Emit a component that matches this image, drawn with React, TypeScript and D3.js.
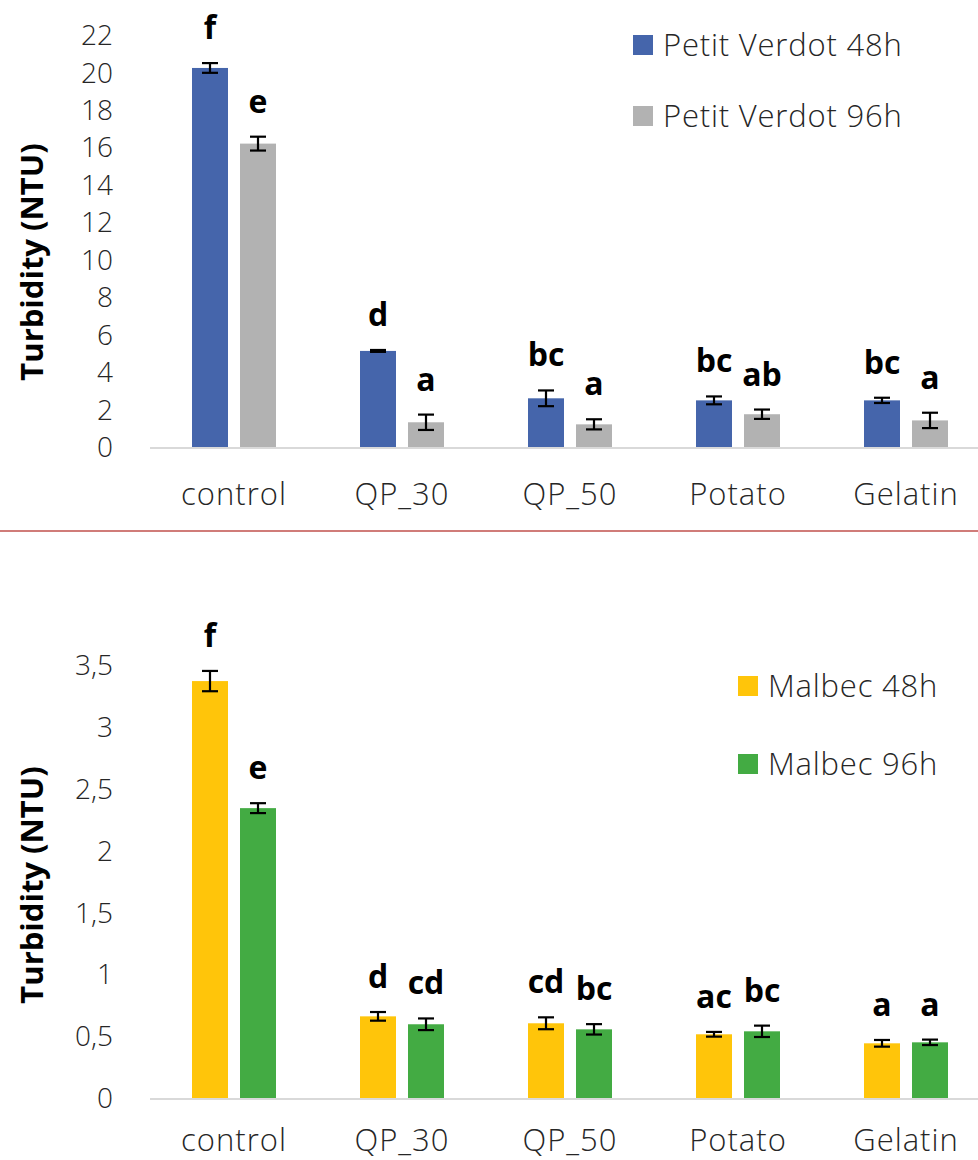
import React from "react";
import * as d3 from "d3";

const categories = ["control", "QP_30", "QP_50", "Potato", "Gelatin"];

// Top chart: Petit Verdot
const pvSeries = ["Petit Verdot 48h", "Petit Verdot 96h"];
const pv48 = [20.24, 5.13, 2.6, 2.49, 2.49];
const pv96 = [16.2, 1.32, 1.21, 1.75, 1.42];
const pv48Err = [0.26, 0.05, 0.42, 0.21, 0.14];
const pv96Err = [0.37, 0.41, 0.27, 0.25, 0.41];
const pv48Letters = ["f", "d", "bc", "bc", "bc"];
const pv96Letters = ["e", "a", "a", "ab", "a"];
const pvTicks = [0, 2, 4, 6, 8, 10, 12, 14, 16, 18, 20, 22];

// Bottom chart: Malbec
const mbSeries = ["Malbec 48h", "Malbec 96h"];
const mb48 = [3.37, 0.66, 0.604, 0.515, 0.442];
const mb96 = [2.343, 0.596, 0.555, 0.539, 0.45];
const mb48Err = [0.082, 0.035, 0.048, 0.019, 0.027];
const mb96Err = [0.04, 0.047, 0.042, 0.046, 0.022];
const mb48Letters = ["f", "d", "cd", "ac", "a"];
const mb96Letters = ["e", "cd", "bc", "bc", "a"];
const mbTicks = [0, 0.5, 1, 1.5, 2, 2.5, 3, 3.5];

const FONT = "'Open Sans', 'Noto Sans', sans-serif";

type PanelProps = {
  series: string[];
  v48: number[];
  v96: number[];
  e48: number[];
  e96: number[];
  l48: string[];
  l96: string[];
  ticks: number[];
  yMax: number;
  y0: number;
  yTop: number;
  titleY: number;
  labelDy: number;
  colors: string[];
  legendX: number;
  legendY: number[];
  fmt: (v: number) => string;
};

function Panel(p: PanelProps) {
  const x = d3.scaleBand<string>().domain(categories).range([150, 990]).paddingInner(0.5).paddingOuter(0.25);
  const xs = d3.scaleBand<string>().domain(p.series).range([0, x.bandwidth()]).paddingInner(0.25);
  const y = d3.scaleLinear().domain([0, p.yMax]).range([p.y0, p.yTop]);
  const vals = [p.v48, p.v96];
  const errs = [p.e48, p.e96];
  const lets = [p.l48, p.l96];
  const cap = 8;
  return (
    <g>
      {/* y tick labels */}
      {p.ticks.map((t) => (
        <text key={"t" + t} x={113} y={y(t)} dy="0.36em" textAnchor="end" fontFamily={FONT} fontWeight={300} fontSize={28} fill="#262626">
          {p.fmt(t)}
        </text>
      ))}
      {/* y title */}
      <text
        transform={`translate(32,${p.titleY}) rotate(-90)`}
        dy="0.36em"
        textAnchor="middle"
        fontFamily={FONT}
        fontWeight={700}
        fontSize={31}
        fill="#000"
      >
        Turbidity (NTU)
      </text>
      {/* bars */}
      {categories.map((c, i) =>
        p.series.map((s, j) => {
          const bx = (x(c) as number) + (xs(s) as number);
          const bw = xs.bandwidth();
          const v = vals[j][i];
          const e = errs[j][i];
          const cx = bx + bw / 2;
          return (
            <g key={c + s}>
              <rect x={bx} y={y(v)} width={bw} height={p.y0 - y(v)} fill={p.colors[j]} />
              <line x1={cx} x2={cx} y1={y(v + e)} y2={y(v - e)} stroke="#000" strokeWidth={2.2} />
              <line x1={cx - cap} x2={cx + cap} y1={y(v + e)} y2={y(v + e)} stroke="#000" strokeWidth={2.2} />
              <line x1={cx - cap} x2={cx + cap} y1={y(v - e)} y2={y(v - e)} stroke="#000" strokeWidth={2.2} />
              <text x={cx} y={y(v + e) - 24} textAnchor="middle" fontFamily={FONT} fontWeight={700} fontSize={32} fill="#000">
                {lets[j][i]}
              </text>
            </g>
          );
        })
      )}
      {/* x axis */}
      <line x1={150} x2={990} y1={p.y0 + 1} y2={p.y0 + 1} stroke="#d9d9d9" strokeWidth={2} />
      {categories.map((c) => (
        <text key={"c" + c} x={(x(c) as number) + x.bandwidth() / 2} y={p.y0 + p.labelDy} textAnchor="middle" fontFamily={FONT} fontWeight={300} fontSize={31} letterSpacing={1} fill="#262626">
          {c}
        </text>
      ))}
      {/* legend */}
      {p.series.map((s, j) => (
        <g key={"lg" + s}>
          <rect x={p.legendX} y={p.legendY[j] - 10} width={20} height={20} fill={p.colors[j]} />
          <text x={p.legendX + 30} y={p.legendY[j]} dy="0.36em" fontFamily={FONT} fontWeight={300} fontSize={31} letterSpacing={0.8} fill="#262626">
            {s}
          </text>
        </g>
      ))}
    </g>
  );
}

export default function App() {
  const fmtTop = (v: number) => d3.format("d")(v);
  const fmtBot = (v: number) => String(v).replace(".", ",");
  return (
    <svg width={978} height={1160} style={{ position: "absolute", left: 0, top: 0, display: "block", background: "#fff" }}>
      <rect x={0} y={0} width={978} height={1160} fill="#fff" />
      <Panel
        series={pvSeries}
        v48={pv48}
        v96={pv96}
        e48={pv48Err}
        e96={pv96Err}
        l48={pv48Letters}
        l96={pv96Letters}
        ticks={pvTicks}
        yMax={22}
        y0={447}
        yTop={35}
        titleY={262}
        labelDy={58}
        colors={["#4565AB", "#B2B2B2"]}
        legendX={633}
        legendY={[45, 116]}
        fmt={fmtTop}
      />
      <line x1={0} x2={978} y1={531} y2={531} stroke="#C0504D" strokeWidth={1.5} />
      <Panel
        series={mbSeries}
        v48={mb48}
        v96={mb96}
        e48={mb48Err}
        e96={mb96Err}
        l48={mb48Letters}
        l96={mb96Letters}
        ticks={mbTicks}
        yMax={3.5}
        y0={1098}
        yTop={665}
        titleY={885}
        labelDy={53}
        colors={["#FFC50A", "#43AB43"]}
        legendX={738}
        legendY={[686, 764]}
        fmt={fmtBot}
      />
    </svg>
  );
}
